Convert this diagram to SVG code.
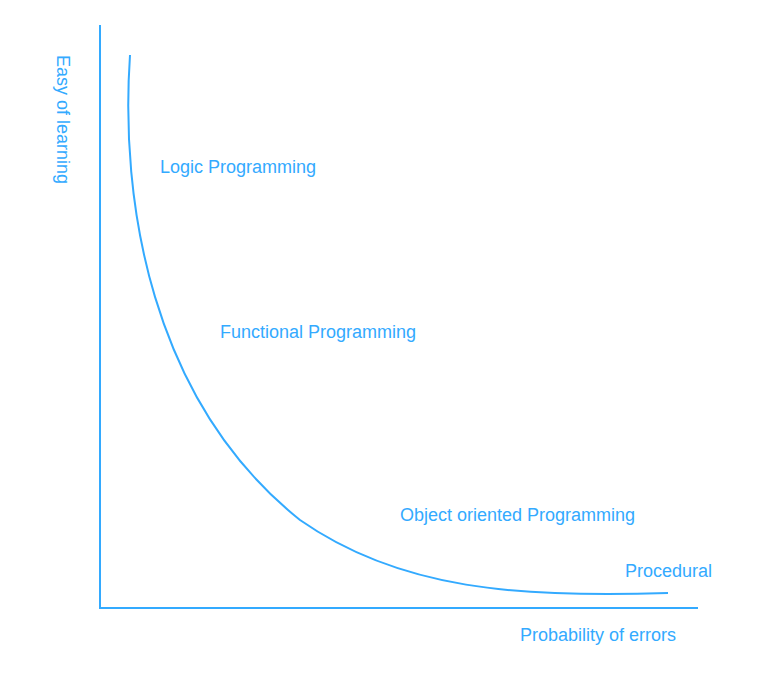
<svg xmlns="http://www.w3.org/2000/svg" width="776" height="681" viewBox="0 0 776 681">
<style>
.t{font-family:"Liberation Sans",Arial,Helvetica,sans-serif;font-size:18px;fill:#33aaff}
.ln{fill:none;stroke:#33aaff;stroke-width:2}
</style>
<rect width="776" height="681" fill="#fff"/>
<g id="axes">
<path class="ln" d="M100,25 V608 H698"/>
</g>
<g id="connectors">
<path class="ln" d="M130,55 C120,200 150,400 300,520 C400,590 520,598 668,593"/>
</g>
<g id="y-label"><text class="t" transform="translate(57,55) rotate(90)">Easy of learning</text></g>
<g id="x-label"><text class="t" x="520" y="641">Probability of errors</text></g>
<g id="logic"><text class="t" x="160" y="173">Logic Programming</text></g>
<g id="functional"><text class="t" x="220" y="338">Functional Programming</text></g>
<g id="oop"><text class="t" x="400" y="521">Object oriented Programming</text></g>
<g id="procedural"><text class="t" x="625" y="577">Procedural</text></g>
</svg>
